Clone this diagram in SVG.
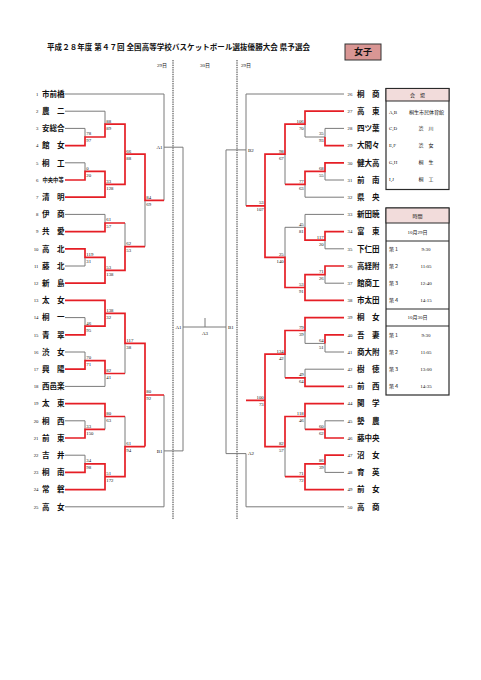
<svg xmlns="http://www.w3.org/2000/svg" width="481" height="680" viewBox="0 0 481 680">
<style>
.bg{fill:#fff}
.g{fill:none;stroke:#7a7a7a;stroke-width:1}
.r{fill:none;stroke:#e51e25;stroke-width:1.7;stroke-linejoin:miter}
.d{fill:none;stroke:#222;stroke-width:0.9;stroke-dasharray:1.4 0.9}
text{font-family:"Liberation Serif","Noto Sans CJK JP",serif;fill:#111}
.nm{font-size:7.5px;font-weight:700}
.nm6{font-size:5.3px;font-weight:700}
.no{font-size:4.8px}
.nol{font-size:4.8px;text-anchor:end}
.s{font-size:4.8px}
.sr{font-size:4.8px;text-anchor:end}
.lb{font-size:5px}
.lbe{font-size:5px;text-anchor:end}
.lbm{font-size:5px;text-anchor:middle}
.tt{font-size:7.5px;font-weight:700}
.tb{font-size:5px}
.tbm{font-size:5px;text-anchor:middle}
.box{fill:#fff;stroke:#2a2a2a;stroke-width:1.2}
.hd{fill:#f2dcdb;stroke:#2a2a2a;stroke-width:1}
.ln{stroke:#2a2a2a;stroke-width:1}
</style>
<rect class="bg" x="0" y="0" width="481" height="680"/>

<g id="title">
<text class="tt" x="47" y="49.8" textLength="263">平成２８年度 第４７回 全国高等学校バスケットボール選抜優勝大会 県予選会</text>
</g>
<g id="category">
<rect x="345" y="44" width="36" height="16" fill="#d99694" stroke="#333" stroke-width="1"/>
<text x="363" y="55.3" font-size="9" text-anchor="middle" font-weight="700">女子</text>
</g>
<g id="days">
<text class="lbm" x="162" y="66.5" font-size="4.5">29日</text>
<text class="lbm" x="205" y="66.5" font-size="4.5">30日</text>
<text class="lbm" x="246" y="66.5" font-size="4.5">29日</text>
<line class="d" x1="173" y1="60" x2="173" y2="519"/>
<line class="d" x1="237" y1="60" x2="237" y2="519"/>
</g>

<g id="connectors">
<path class="g" d="M65 94H164V200.4 M65 111.2H105V124.1 M65 128.4H85V137 M65 162.8H85V171.4 M145 200.4V246.65 M65 214.4H105V223 M65 266H85V257.4 M125 223V246.65 M164 147.2H183V450.9H164 M65 317.6H85V326.2 M65 352H85V360.6 M65 386.4H105V373.5 M125 343.4V373.5 M65 420.8H85V429.4 M105 416.5V429.4 M65 455.2H85V463.8 M125 416.5V446.6 M164 395V506.8H65"/>
<path class="g" d="M183 327H226 M205 318V327 M246 149.9H226V453.6H246"/>
<path class="g" d="M344 94H246V205.8 M344 128.4H325V137H305 M305 124.1V137 M344 180H325V171.4 M344 197.2H305V184.3 M285 154.2V184.3 M344 214.4H305V227.3H285 M344 248.8H325V240.2 M344 283.2H325V274.6 M285 227.3V257.4 M344 352H325V343.4H305 M305 330.5V343.4 M344 369.2H305V377.8 M285 354.15V377.8 M344 420.8H325V429.4 M305 416.5V429.4 M344 472.4H325V463.8 M285 446.6V476.7 M246 453.6V506.8H344"/>
<path class="r" d="M65 145.6H85V137H105V124.1H125V184.3H105 M65 180H85V171.4H105V197.2H65 M125 154.2H145V200.4H164 M65 231.6H105V223H125 M65 248.8H85V257.4H105V283.2H65 M105 270.3H125V246.65H145 M65 300.4H105V326.2H85V334.8H65 M105 313.3H125V343.4H145V446.6 M65 369.2H85V360.6H105V373.5H125 M145 395H164 M65 403.6H105V416.5H125 M65 438H85V429.4H105 M65 472.4H85V463.8H105V489.6H65 M105 476.7H125V446.6H145"/>
<path class="r" d="M344 111.2H305V124.1H285V154.2H265V257.4H285V287.5H305 M344 145.6H325V137 M344 162.8H325V171.4H305V184.3H285 M246 205.8H265 M344 231.6H325V240.2H305V227.3 M344 266H325V274.6H305V300.4H344 M344 317.6H305V330.5H285V354.15H265V446.6H285V416.5H305V403.6H344 M344 334.8H325V343.4 M344 386.4H305V377.8H285 M246 400.4H265 M344 438H325V429.4H305 M344 455.2H325V463.8H305V489.6H344 M305 476.7H285"/>
</g>

<g id="round-labels">
<text class="lbe" x="162.5" y="149">A1</text>
<text class="lbe" x="162.5" y="452.8">B1</text>
<text class="lbe" x="181.5" y="328.8">A1</text>
<text class="lbm" x="205" y="334.5">A3</text>
<text class="lb" x="228" y="328.8">B1</text>
<text class="lb" x="248" y="151.8">B2</text>
<text class="lb" x="248" y="455.4">A2</text>
</g>

<g id="scores-left" class="s">
<text class="s" x="86.3" y="135.4">78</text><text class="s" x="86.3" y="142.4">97</text>
<text class="s" x="106.3" y="122.5">88</text><text class="s" x="106.3" y="129.5">89</text>
<text class="s" x="86.3" y="169.8">0</text><text class="s" x="86.3" y="176.8">20</text>
<text class="s" x="106.3" y="182.7">33</text><text class="s" x="106.3" y="189.7">128</text>
<text class="s" x="126.3" y="152.6">66</text><text class="s" x="126.3" y="159.6">88</text>
<text class="s" x="106.3" y="221.4">61</text><text class="s" x="106.3" y="228.4">57</text>
<text class="s" x="86.3" y="255.8">119</text><text class="s" x="86.3" y="262.8">31</text>
<text class="s" x="106.3" y="268.7">53</text><text class="s" x="106.3" y="275.7">138</text>
<text class="s" x="126.3" y="245">62</text><text class="s" x="126.3" y="252">53</text>
<text class="s" x="146.3" y="198.8">84</text><text class="s" x="146.3" y="205.8">69</text>
<text class="s" x="86.3" y="324.6">46</text><text class="s" x="86.3" y="331.6">95</text>
<text class="s" x="106.3" y="311.7">138</text><text class="s" x="106.3" y="318.7">32</text>
<text class="s" x="86.3" y="359">70</text><text class="s" x="86.3" y="366">71</text>
<text class="s" x="106.3" y="371.9">82</text><text class="s" x="106.3" y="378.9">41</text>
<text class="s" x="126.3" y="341.8">117</text><text class="s" x="126.3" y="348.8">38</text>
<text class="s" x="86.3" y="427.8">33</text><text class="s" x="86.3" y="434.8">150</text>
<text class="s" x="106.3" y="414.9">80</text><text class="s" x="106.3" y="421.9">63</text>
<text class="s" x="86.3" y="462.2">34</text><text class="s" x="86.3" y="469.2">98</text>
<text class="s" x="106.3" y="475.1">51</text><text class="s" x="106.3" y="482.1">172</text>
<text class="s" x="126.3" y="445">61</text><text class="s" x="126.3" y="452">94</text>
<text class="s" x="146.3" y="393.4">80</text><text class="s" x="146.3" y="400.4">92</text>
</g>

<g id="scores-right">
<text class="sr" x="323.7" y="135.4">35</text><text class="sr" x="323.7" y="142.4">93</text>
<text class="sr" x="303.7" y="122.5">106</text><text class="sr" x="303.7" y="129.5">70</text>
<text class="sr" x="323.7" y="169.8">68</text><text class="sr" x="323.7" y="176.8">55</text>
<text class="sr" x="303.7" y="182.7">77</text><text class="sr" x="303.7" y="189.7">63</text>
<text class="sr" x="283.7" y="152.6">98</text><text class="sr" x="283.7" y="159.6">67</text>
<text class="sr" x="323.7" y="238.6">117</text><text class="sr" x="323.7" y="245.6">20</text>
<text class="sr" x="303.7" y="225.7">45</text><text class="sr" x="303.7" y="232.7">81</text>
<text class="sr" x="323.7" y="273">71</text><text class="sr" x="323.7" y="280">26</text>
<text class="sr" x="303.7" y="285.9">53</text><text class="sr" x="303.7" y="292.9">91</text>
<text class="sr" x="283.7" y="255.8">25</text><text class="sr" x="283.7" y="262.8">140</text>
<text class="sr" x="263.7" y="204.2">53</text><text class="sr" x="263.7" y="211.2">107</text>
<text class="sr" x="323.7" y="341.8">64</text><text class="sr" x="323.7" y="348.8">51</text>
<text class="sr" x="303.7" y="328.9">79</text><text class="sr" x="303.7" y="335.9">39</text>
<text class="sr" x="303.7" y="376.2">49</text><text class="sr" x="303.7" y="383.2">64</text>
<text class="sr" x="283.7" y="352.5">134</text><text class="sr" x="283.7" y="359.5">42</text>
<text class="sr" x="323.7" y="427.8">60</text><text class="sr" x="323.7" y="434.8">62</text>
<text class="sr" x="303.7" y="414.9">118</text><text class="sr" x="303.7" y="421.9">46</text>
<text class="sr" x="323.7" y="462.2">86</text><text class="sr" x="323.7" y="469.2">39</text>
<text class="sr" x="303.7" y="475.1">71</text><text class="sr" x="303.7" y="482.1">72</text>
<text class="sr" x="283.7" y="445">82</text><text class="sr" x="283.7" y="452">57</text>
<text class="sr" x="263.7" y="398.8">100</text><text class="sr" x="263.7" y="405.8">73</text>
</g>

<g id="t1"><text class="nol" x="38.5" y="95.8">1</text><text class="nm" x="42" y="96.8">市前橋</text></g>
<g id="t2"><text class="nol" x="38.5" y="113">2</text><text class="nm" x="42" y="114">農　二</text></g>
<g id="t3"><text class="nol" x="38.5" y="130.2">3</text><text class="nm" x="42" y="131.2">安総合</text></g>
<g id="t4"><text class="nol" x="38.5" y="147.4">4</text><text class="nm" x="42" y="148.4">館　女</text></g>
<g id="t5"><text class="nol" x="38.5" y="164.6">5</text><text class="nm" x="42" y="165.6">桐　工</text></g>
<g id="t6"><text class="nol" x="38.5" y="181.8">6</text><text class="nm6" x="42.5" y="182">中央中等</text></g>
<g id="t7"><text class="nol" x="38.5" y="199">7</text><text class="nm" x="42" y="200">清　明</text></g>
<g id="t8"><text class="nol" x="38.5" y="216.2">8</text><text class="nm" x="42" y="217.2">伊　商</text></g>
<g id="t9"><text class="nol" x="38.5" y="233.4">9</text><text class="nm" x="42" y="234.4">共　愛</text></g>
<g id="t10"><text class="nol" x="38.5" y="250.6">10</text><text class="nm" x="42" y="251.6">高　北</text></g>
<g id="t11"><text class="nol" x="38.5" y="267.8">11</text><text class="nm" x="42" y="268.8">藤　北</text></g>
<g id="t12"><text class="nol" x="38.5" y="285">12</text><text class="nm" x="42" y="286">新　島</text></g>
<g id="t13"><text class="nol" x="38.5" y="302.2">13</text><text class="nm" x="42" y="303.2">太　女</text></g>
<g id="t14"><text class="nol" x="38.5" y="319.4">14</text><text class="nm" x="42" y="320.4">桐　一</text></g>
<g id="t15"><text class="nol" x="38.5" y="336.6">15</text><text class="nm" x="42" y="337.6">青　翠</text></g>
<g id="t16"><text class="nol" x="38.5" y="353.8">16</text><text class="nm" x="42" y="354.8">渋　女</text></g>
<g id="t17"><text class="nol" x="38.5" y="371">17</text><text class="nm" x="42" y="372">興　陽</text></g>
<g id="t18"><text class="nol" x="38.5" y="388.2">18</text><text class="nm" x="42" y="389.2">西邑楽</text></g>
<g id="t19"><text class="nol" x="38.5" y="405.4">19</text><text class="nm" x="42" y="406.4">太　東</text></g>
<g id="t20"><text class="nol" x="38.5" y="422.6">20</text><text class="nm" x="42" y="423.6">桐　西</text></g>
<g id="t21"><text class="nol" x="38.5" y="439.8">21</text><text class="nm" x="42" y="440.8">前　東</text></g>
<g id="t22"><text class="nol" x="38.5" y="457">22</text><text class="nm" x="42" y="458">吉　井</text></g>
<g id="t23"><text class="nol" x="38.5" y="474.2">23</text><text class="nm" x="42" y="475.2">桐　南</text></g>
<g id="t24"><text class="nol" x="38.5" y="491.4">24</text><text class="nm" x="42" y="492.4">常　磐</text></g>
<g id="t25"><text class="nol" x="38.5" y="508.6">25</text><text class="nm" x="42" y="509.6">高　女</text></g>

<g id="t26"><text class="no" x="347.5" y="95.8">26</text><text class="nm" x="357" y="96.8">桐　商</text></g>
<g id="t27"><text class="no" x="347.5" y="113">27</text><text class="nm" x="357" y="114">高　東</text></g>
<g id="t28"><text class="no" x="347.5" y="130.2">28</text><text class="nm" x="357" y="131.2">四ツ葉</text></g>
<g id="t29"><text class="no" x="347.5" y="147.4">29</text><text class="nm" x="357" y="148.4">大間々</text></g>
<g id="t30"><text class="no" x="347.5" y="164.6">30</text><text class="nm" x="357" y="165.6">健大高</text></g>
<g id="t31"><text class="no" x="347.5" y="181.8">31</text><text class="nm" x="357" y="182.8">前　南</text></g>
<g id="t32"><text class="no" x="347.5" y="199">32</text><text class="nm" x="357" y="200">県　央</text></g>
<g id="t33"><text class="no" x="347.5" y="216.2">33</text><text class="nm" x="357" y="217.2">新田暁</text></g>
<g id="t34"><text class="no" x="347.5" y="233.4">34</text><text class="nm" x="357" y="234.4">富　東</text></g>
<g id="t35"><text class="no" x="347.5" y="250.6">35</text><text class="nm" x="357" y="251.6">下仁田</text></g>
<g id="t36"><text class="no" x="347.5" y="267.8">36</text><text class="nm" x="357" y="268.8">高経附</text></g>
<g id="t37"><text class="no" x="347.5" y="285">37</text><text class="nm" x="357" y="286">館商工</text></g>
<g id="t38"><text class="no" x="347.5" y="302.2">38</text><text class="nm" x="357" y="303.2">市太田</text></g>
<g id="t39"><text class="no" x="347.5" y="319.4">39</text><text class="nm" x="357" y="320.4">桐　女</text></g>
<g id="t40"><text class="no" x="347.5" y="336.6">40</text><text class="nm" x="357" y="337.6">吾　妻</text></g>
<g id="t41"><text class="no" x="347.5" y="353.8">41</text><text class="nm" x="357" y="354.8">商大附</text></g>
<g id="t42"><text class="no" x="347.5" y="371">42</text><text class="nm" x="357" y="372">樹　徳</text></g>
<g id="t43"><text class="no" x="347.5" y="388.2">43</text><text class="nm" x="357" y="389.2">前　西</text></g>
<g id="t44"><text class="no" x="347.5" y="405.4">44</text><text class="nm" x="357" y="406.4">関　学</text></g>
<g id="t45"><text class="no" x="347.5" y="422.6">45</text><text class="nm" x="357" y="423.6">勢　農</text></g>
<g id="t46"><text class="no" x="347.5" y="439.8">46</text><text class="nm" x="357" y="440.8">藤中央</text></g>
<g id="t47"><text class="no" x="347.5" y="457">47</text><text class="nm" x="357" y="458">沼　女</text></g>
<g id="t48"><text class="no" x="347.5" y="474.2">48</text><text class="nm" x="357" y="475.2">育　英</text></g>
<g id="t49"><text class="no" x="347.5" y="491.4">49</text><text class="nm" x="357" y="492.4">前　女</text></g>
<g id="t50"><text class="no" x="347.5" y="508.6">50</text><text class="nm" x="357" y="509.6">高　商</text></g>

<g id="venue-table">
<rect class="box" x="386" y="88.5" width="63" height="101"/>
<rect class="hd" x="386" y="88.5" width="63" height="12.5"/>
<text class="tbm" x="417.5" y="96.6">会　場</text>
<text class="tb" x="389" y="113.8">A,B</text><text class="tbm" x="426.5" y="113.8">桐生市民体育館</text>
<text class="tb" x="389" y="130.3">C,D</text><text class="tbm" x="426" y="130.3">渋　川</text>
<text class="tb" x="389" y="146.8">E,F</text><text class="tbm" x="426" y="146.8">渋　女</text>
<text class="tb" x="389" y="163.8">G,H</text><text class="tbm" x="426" y="163.8">桐　生</text>
<text class="tb" x="389" y="180.8">I,J</text><text class="tbm" x="426" y="180.8">桐　工</text>
</g>

<g id="time-table">
<rect class="box" x="386" y="208" width="63" height="187"/>
<rect class="hd" x="386" y="208" width="63" height="15"/>
<text class="tbm" x="417.5" y="217.5">時間</text>
<line class="ln" x1="386" y1="241" x2="449" y2="241"/>
<text class="tbm" x="417.5" y="233.8">10月29日</text>
<text class="tb" x="389" y="250.8">第１</text><text class="tbm" x="426" y="250.8">9:30</text>
<text class="tb" x="389" y="267.8">第２</text><text class="tbm" x="426" y="267.8">11:05</text>
<text class="tb" x="389" y="284.8">第３</text><text class="tbm" x="426" y="284.8">12:40</text>
<text class="tb" x="389" y="301.8">第４</text><text class="tbm" x="426" y="301.8">14:15</text>
<line class="ln" x1="386" y1="309" x2="449" y2="309"/>
<line class="ln" x1="386" y1="326" x2="449" y2="326"/>
<text class="tbm" x="417.5" y="319.3">10月30日</text>
<text class="tb" x="389" y="336.8">第１</text><text class="tbm" x="426" y="336.8">9:30</text>
<text class="tb" x="389" y="353.8">第２</text><text class="tbm" x="426" y="353.8">11:05</text>
<text class="tb" x="389" y="370.8">第３</text><text class="tbm" x="426" y="370.8">13:00</text>
<text class="tb" x="389" y="387.8">第４</text><text class="tbm" x="426" y="387.8">14:35</text>
</g>
</svg>
